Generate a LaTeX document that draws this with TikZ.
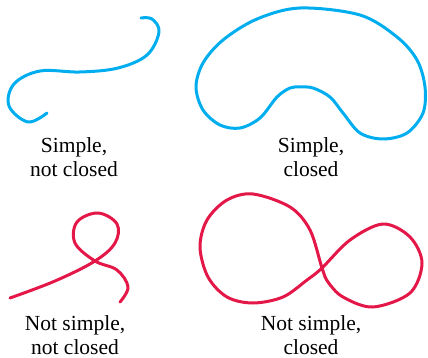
\documentclass[tikz,border=0pt]{standalone}
\usepackage{fontspec}
\setmainfont{Liberation Serif}
\definecolor{cblue}{RGB}{0,174,239}
\definecolor{cred}{RGB}{228,24,72}
\begin{document}
\begin{tikzpicture}[x=1pt,y=-1pt,
  curveb/.style={draw=cblue,line width=3pt,line cap=round,line join=round},
  curver/.style={draw=cred,line width=3pt,line cap=round,line join=round},
  lbl/.style={align=center,font=\fontsize{21.5}{24}\selectfont,inner sep=0pt,anchor=base}]
\useasboundingbox (0,0) rectangle (428,358);
% Simple, not closed
\draw[curveb] plot[smooth,tension=0.6] coordinates {(47,113) (28,122) (9,106) (14,84) (40,71) (80,72) (118,68) (147,55) (159,32) (152,19) (141,18)};
% Simple, closed
\draw[curveb] plot[smooth cycle,tension=0.55] coordinates {(300,8) (360,15) (397,37) (417,60) (425,87) (423,113) (407,133) (383,139) (360,133) (343,113) (330,97) (313,88) (300,87) (290,88) (277,97) (260,118) (240,128) (220,125) (203,110) (196,87) (203,63) (223,40) (257,19)};
% Not simple, not closed
\draw[curver] plot[smooth,tension=0.6] coordinates {(10,298) (55,281) (95,261) (115,243) (117,224) (98,213) (77,222) (75,243) (95,261) (117,270) (128,287) (120,302)};
% Not simple, closed
\draw[curver] plot[smooth cycle,tension=0.55] coordinates {(322,268) (310,230) (290,207) (253,194) (227,200) (207,220) (200,247) (208,277) (227,297) (253,303) (283,297) (307,280) (322,268) (350,240) (383,224) (410,237) (422,263) (410,293) (373,307) (343,297) (328,282)};
\node[lbl] (t1) at (74,177) {Simple,\\not closed};
\node[lbl] (t2) at (311,177) {Simple,\\closed};
\node[lbl] (t3) at (75,354) {Not simple,\\not closed};
\node[lbl] (t4) at (311,354) {Not simple,\\closed};
\end{tikzpicture}
\end{document}
